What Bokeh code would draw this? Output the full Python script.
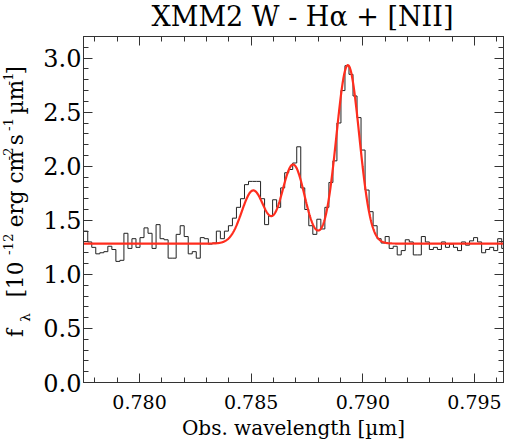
import numpy as np
from bokeh.plotting import figure
from bokeh.layouts import row, column
from bokeh.models import (Range1d, LinearAxis, SingleIntervalTicker,
                          NumeralTickFormatter, CustomJSTickFormatter)
from bokeh.core.properties import value
from bokeh.embed import file_html
from bokeh.resources import INLINE

# ---- binned spectrum (flux in 1e-12 erg/cm2/s/um) ----
wave_start = 0.77750      # left edge of first bin [um]
bin_width = 0.00018       # bin width [um]
flux = [
    1.40, 1.30, 1.25, 1.19, 1.20, 1.21, 1.26, 1.23, 1.12, 1.13,
    1.38, 1.24, 1.33, 1.25, 1.34, 1.43, 1.38, 1.24, 1.46, 1.33,
    1.32, 1.15, 1.15, 1.37, 1.45, 1.35, 1.19, 1.21, 1.15, 1.34,
    1.33, 1.28, 1.29, 1.40, 1.33, 1.40, 1.45, 1.52, 1.62, 1.70,
    1.83, 1.86, 1.86, 1.86, 1.70, 1.46, 1.54, 1.69, 1.62, 1.80,
    1.94, 1.97, 2.03, 2.18, 1.80, 1.60, 1.45, 1.37, 1.51, 1.42,
    1.62, 1.85, 2.05, 2.40, 2.70, 2.93, 2.85, 2.65, 2.45, 2.15,
    1.78, 1.58, 1.45, 1.33, 1.29, 1.35, 1.24, 1.26, 1.18, 1.22,
    1.32, 1.30, 1.18, 1.18, 1.35, 1.30, 1.23, 1.25, 1.23, 1.30,
    1.25, 1.28, 1.25, 1.22, 1.30, 1.27, 1.31, 1.34, 1.30, 1.20,
    1.23, 1.25, 1.22, 1.33, 1.24,
]

# ---- three-Gaussian fit on a flat continuum ----
continuum = 1.285
line_centers = [0.78509, 0.78688, 0.78933]
line_amps = [0.49, 0.73, 1.65]
line_sigma = 0.00051

title_text = "XMM2 W - H\u03b1 + [NII]"
xlabel_text = "Obs. wavelength [\u00b5m]"
# y-axis title split into normal / superscript / subscript runs
ylabel_runs = [("f", "n"), ("\u03bb", "sub"), ("[10", "n"), ("-12", "sup"),
               ("erg cm", "n"), ("-2", "sup"), ("s", "n"), ("-1", "sup"),
               ("\u00b5m", "n"), ("-1", "sup"), ("]", "n")]

x_lo, x_hi = 0.77749, 0.79630
y_lo, y_hi = 0.0, 3.2

edges = wave_start + bin_width * np.arange(len(flux) + 1)
step_y = list(flux) + [flux[-1]]

fit_x = np.linspace(x_lo, x_hi, 1200)
fit_y = np.full_like(fit_x, continuum)
for mu, amp in zip(line_centers, line_amps):
    fit_y += amp * np.exp(-0.5 * ((fit_x - mu) / line_sigma) ** 2)

SERIF = "DejaVu Serif"
FRAME = "#333333"
W, H = 505, 442
TITLE_H = 32
YLAB_W = 32
MID = 0.344   # distance from baseline to the "middle" anchor, in em


def bare(width, height):
    f = figure(width=width, height=height, output_backend="svg",
               toolbar_location=None, title=None, min_border=0,
               x_axis_location=None, y_axis_location=None,
               x_range=Range1d(0, width), y_range=Range1d(0, height))
    f.outline_line_color = None
    f.xgrid.visible = False
    f.ygrid.visible = False
    f.background_fill_color = "white"
    f.border_fill_color = "white"
    return f


# ---- title strip (baseline at page y = 25) ----
title_px = 27.0
tfig = bare(W, TITLE_H)
tfig.text(x=[302], y=[TITLE_H - 25 + MID * title_px], text=[title_text],
          text_align="center", text_baseline="middle", text_font=value(SERIF),
          text_font_size=value(f"{title_px}px"), text_color="black")

# ---- rotated y-axis title strip ----
yfig = bare(YLAB_W, H - TITLE_H)
run_start = [388, 370, 341, 291, 258, 179, 161, 144, 124, 90, 77]  # page y
run_style = {"n": (22, 21.5), "sup": (12, 13.5), "sub": (29, 13.5)}
for (txt, kind), sy in zip(ylabel_runs, run_start):
    base_x, size = run_style[kind]
    yfig.text(x=[base_x - MID * size], y=[H - sy], text=[txt], angle=np.pi / 2,
              text_align="left", text_baseline="middle",
              text_font=value(SERIF), text_font_size=value(f"{size}px"),
              text_color="black")

# ---- main spectrum panel ----
p = figure(width=W - YLAB_W, height=H - TITLE_H, output_backend="svg",
           toolbar_location=None, title=None,
           x_range=Range1d(x_lo, x_hi), y_range=Range1d(y_lo, y_hi),
           min_border_left=83 - YLAB_W, min_border_right=2,
           min_border_top=36 - TITLE_H, min_border_bottom=59,
           x_axis_location=None, y_axis_location=None)
p.background_fill_color = "white"
p.border_fill_color = "white"
p.outline_line_color = FRAME
p.xgrid.visible = False
p.ygrid.visible = False

blank = CustomJSTickFormatter(code="return '';")


def style_axis(ax, labels, size="19px"):
    ax.axis_line_color = FRAME
    ax.major_tick_line_color = FRAME
    ax.minor_tick_line_color = FRAME
    ax.major_tick_in = 9
    ax.major_tick_out = 0
    ax.minor_tick_in = 5
    ax.minor_tick_out = 0
    ax.major_label_text_font = SERIF
    ax.major_label_text_font_size = size
    ax.major_label_text_color = "black"
    if not labels:
        ax.formatter = blank
        ax.major_label_standoff = 0
        ax.major_label_text_font_size = "0px"


bottom = LinearAxis(ticker=SingleIntervalTicker(interval=0.005, num_minor_ticks=5),
                    formatter=NumeralTickFormatter(format="0.000"))
style_axis(bottom, True, "19px")
bottom.major_label_standoff = 12
bottom.axis_label = xlabel_text
bottom.axis_label_text_font = SERIF
bottom.axis_label_text_font_size = "20px"
bottom.axis_label_text_font_style = "normal"
bottom.axis_label_text_color = "black"
bottom.axis_label_standoff = 4
p.add_layout(bottom, "below")

top = LinearAxis(ticker=SingleIntervalTicker(interval=0.005, num_minor_ticks=5))
style_axis(top, False)
p.add_layout(top, "above")

left = LinearAxis(ticker=SingleIntervalTicker(interval=0.5, num_minor_ticks=5),
                  formatter=NumeralTickFormatter(format="0.0"))
style_axis(left, True, "24px")
left.major_label_standoff = 2
left.major_label_orientation = "horizontal"
p.add_layout(left, "left")

right = LinearAxis(ticker=SingleIntervalTicker(interval=0.5, num_minor_ticks=5))
style_axis(right, False)
p.add_layout(right, "right")

# spectrum and fit
p.step(edges, step_y, mode="after", line_color="#222222", line_width=1)
p.line(fit_x, fit_y, line_color="#ff2d1e", line_width=2.2)

layout = column(tfig, row(yfig, p, spacing=0), spacing=0)
open("out.html", "w").write(file_html(layout, INLINE))
